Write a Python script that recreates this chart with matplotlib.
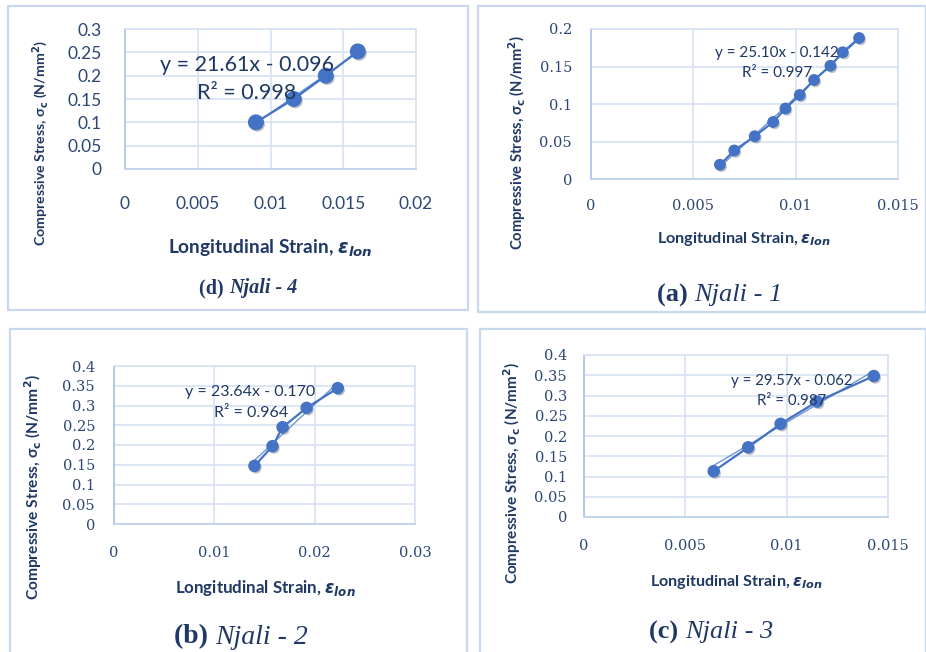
import matplotlib
matplotlib.use("Agg")
import matplotlib.pyplot as plt
import matplotlib.patheffects as pe
from matplotlib.patches import Rectangle
import numpy as np

# ---- data: stress-strain readings per sample -------------------------------
strain_d = [0.0090, 0.0116, 0.0138, 0.0160]
stress_d = [0.100, 0.150, 0.200, 0.252]

strain_a = [0.0063, 0.0070, 0.0080, 0.0089, 0.0095, 0.0102, 0.0109, 0.0117, 0.0123, 0.0131]
stress_a = [0.019, 0.038, 0.057, 0.076, 0.094, 0.112, 0.132, 0.151, 0.169, 0.188]

strain_b = [0.0140, 0.0158, 0.0168, 0.0192, 0.0223]
stress_b = [0.147, 0.197, 0.245, 0.294, 0.344]

strain_c = [0.0064, 0.0081, 0.0097, 0.0115, 0.0143]
stress_c = [0.113, 0.172, 0.230, 0.285, 0.348]

# linear trendlines (slope, intercept, R^2)
fit_d = (21.61, -0.096, 0.998)
fit_a = (25.10, -0.142, 0.997)
fit_b = (23.64, -0.170, 0.964)
fit_c = (29.57, -0.062, 0.987)

titles = ["(d)", "(a)", "(b)", "(c)"]
names = ["Njali - 4", "Njali - 1", "Njali - 2", "Njali - 3"]

xticks_d = [0, 0.005, 0.01, 0.015, 0.02]
yticks_d = [0, 0.05, 0.1, 0.15, 0.2, 0.25, 0.3]
xticks_a = [0, 0.005, 0.01, 0.015]
yticks_a = [0, 0.05, 0.1, 0.15, 0.2]
xticks_b = [0, 0.01, 0.02, 0.03]
yticks_b = [0, 0.05, 0.1, 0.15, 0.2, 0.25, 0.3, 0.35, 0.4]
xticks_c = [0, 0.005, 0.01, 0.015]
yticks_c = [0, 0.05, 0.1, 0.15, 0.2, 0.25, 0.3, 0.35, 0.4]

# ---- styling --------------------------------------------------------------
W, H = 926, 652
NAVY = "#1f3864"
TICKC = "#2b4674"
BLUE = "#4472c4"
TREND = "#6f96d1"
GRID = "#d6e2f3"
FRAME = "#c8d8ef"

plt.rcParams["mathtext.fontset"] = "custom"
plt.rcParams["mathtext.it"] = "DejaVu Sans:italic:bold"
plt.rcParams["mathtext.rm"] = "DejaVu Sans:bold"
plt.rcParams["mathtext.bf"] = "DejaVu Sans:bold"

fig = plt.figure(figsize=(W / 100, H / 100), dpi=100)
fig.patch.set_facecolor("white")


def fx(x):
    return x / W


def fy(y):
    return 1 - y / H


def pt(px):
    return px * 72 / 100


# panel frames (x0, y0, x1, y1) in pixels
frames = [(8, 6, 468, 310), (478, 6, 926, 312), (10, 329, 467, 660), (480, 329, 926, 660)]
for x0, y0, x1, y1 in frames:
    fig.patches.append(Rectangle((fx(x0), fy(y1)), fx(x1 - x0), (y1 - y0) / H,
                                 transform=fig.transFigure, fill=False,
                                 edgecolor=FRAME, linewidth=1.6))

panels = [
    dict(x=strain_d, y=stress_d, fit=fit_d, xt=xticks_d, yt=yticks_d,
         box=(125, 29, 416, 169), ypad=23, xpad=27, tickfont=("Lato", 12.5),
         ms=10.5, eq=(247, 65, 15.5), r2=(247, 93),
         xlab=(270, 248, 13.8), ylab=(41, 143, 10.2),
         title=(229, 288, 14.5, "bold")),
    dict(x=strain_a, y=stress_a, fit=fit_a, xt=xticks_a, yt=yticks_a,
         box=(591, 29, 898, 179), ypad=19, xpad=20, tickfont=("DejaVu Serif", 10.5),
         ms=7.5, eq=(777, 53, 11), r2=(777, 73),
         xlab=(744, 239, 11.7), ylab=(517, 143, 10.6),
         title=(694, 295, 19, "normal")),
    dict(x=strain_b, y=stress_b, fit=fit_b, xt=xticks_b, yt=yticks_b,
         box=(114, 366, 415, 524), ypad=19, xpad=22, tickfont=("DejaVu Serif", 10.5),
         ms=8, eq=(250, 392, 11.5), r2=(251, 413),
         xlab=(265, 588, 12.2), ylab=(33, 487, 11.2),
         title=(215, 637, 20, "normal")),
    dict(x=strain_c, y=stress_c, fit=fit_c, xt=xticks_c, yt=yticks_c,
         box=(584, 355, 888, 517), ypad=17, xpad=22, tickfont=("DejaVu Serif", 10.5),
         ms=8, eq=(792, 381, 10.8), r2=(792, 401),
         xlab=(736, 582, 11.6), ylab=(512, 473, 11),
         title=(685, 632, 19, "normal")),
]

shadow = [pe.SimplePatchShadow(offset=(1.2, -1.5), shadow_rgbFace="#7a7a7a", alpha=0.45),
          pe.Normal()]

for p, tag, name in zip(panels, titles, names):
    x0, y0, x1, y1 = p["box"]
    ax = fig.add_axes([fx(x0), fy(y1), (x1 - x0) / W, (y1 - y0) / H])
    ax.set_xlim(p["xt"][0], p["xt"][-1])
    ax.set_ylim(p["yt"][0], p["yt"][-1])
    ax.set_xticks(p["xt"])
    ax.set_yticks(p["yt"])
    ax.set_xticklabels([f"{v:g}" for v in p["xt"]])
    ax.set_yticklabels([f"{v:g}" for v in p["yt"]])
    fam, fs = p["tickfont"]
    ax.tick_params(length=0, colors=TICKC, labelsize=fs)
    ax.tick_params(axis="x", pad=pt(p["xpad"]))
    ax.tick_params(axis="y", pad=pt(p["ypad"]))
    for lab in ax.get_xticklabels() + ax.get_yticklabels():
        lab.set_fontfamily(fam)
    ax.grid(True, color=GRID, linewidth=1.2)
    for s in ax.spines.values():
        s.set_color(GRID)
        s.set_linewidth(1.2)
    ax.spines["left"].set_color("#a9c2e8")
    ax.spines["bottom"].set_color("#bcd0ee")
    ax.set_axisbelow(True)

    # trendline from the fitted equation
    m, c, r2 = p["fit"]
    xs = np.array([min(p["x"]), max(p["x"])])
    ax.plot(xs, m * xs + c, color=TREND, linewidth=1.0, zorder=2)
    # measured series: connecting line, then shadowed markers
    ax.plot(p["x"], p["y"], color=BLUE, linewidth=1.6, zorder=3)
    ax.plot(p["x"], p["y"], linestyle="none", marker="o", markersize=p["ms"],
            markerfacecolor=BLUE, markeredgecolor=BLUE, zorder=4,
            path_effects=shadow)

    ex, ey, efs = p["eq"]
    sign = "-" if c < 0 else "+"
    fig.text(fx(ex), fy(ey), f"y = {m:.2f}x {sign} {abs(c):.3f}", ha="center",
             va="center", fontsize=efs, family="Lato", color=NAVY)
    rx, ry = p["r2"]
    fig.text(fx(rx), fy(ry), f"R² = {r2:.3f}", ha="center", va="center",
             fontsize=efs, family="Lato", color=NAVY)

    lx, ly, lfs = p["xlab"]
    fig.text(fx(lx), fy(ly), r"Longitudinal Strain, $\varepsilon_{lon}$",
             ha="center", va="center", fontsize=lfs, fontweight="bold",
             family=["Lato", "DejaVu Sans"], color=NAVY)
    yx, yy, yfs = p["ylab"]
    fig.text(fx(yx), fy(yy), r"Compressive Stress, σ$_{\mathrm{c}}$ (N/mm$^{\mathrm{2}}$)",
             ha="center", va="center", rotation=90, fontsize=yfs,
             fontweight="bold", family=["Lato", "DejaVu Sans"], color=NAVY)

    tx, ty, tfs, nweight = p["title"]
    fig.text(fx(tx), fy(ty), tag + " ", ha="right", va="center", fontsize=tfs,
             fontweight="bold", family="Liberation Serif", color=NAVY)
    fig.text(fx(tx), fy(ty), name, ha="left", va="center", fontsize=tfs,
             fontweight=nweight, fontstyle="italic", family="Liberation Serif",
             color=NAVY)

fig.savefig("out.png", dpi=100, facecolor="white")
